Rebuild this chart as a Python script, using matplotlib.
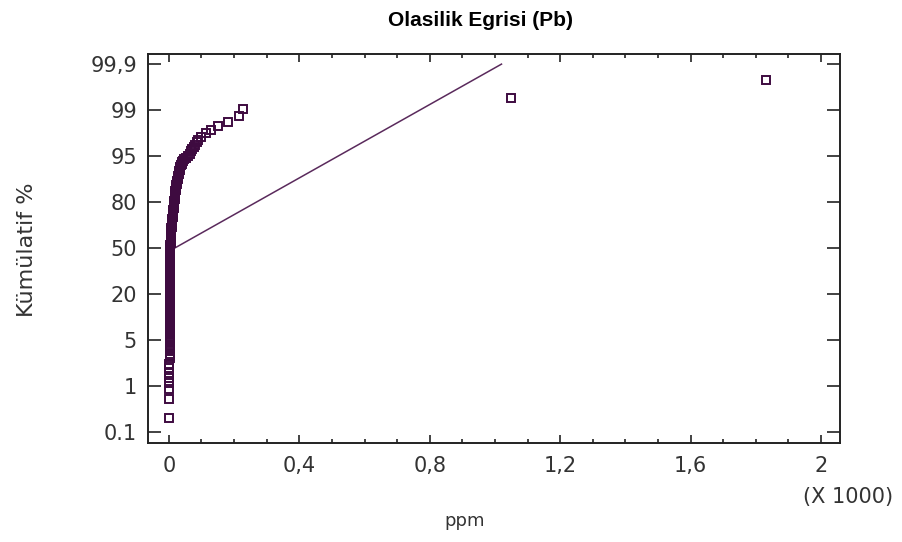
import numpy as np
import matplotlib
matplotlib.use('Agg')
import matplotlib.pyplot as plt
from matplotlib.ticker import MultipleLocator

# probability axis levels (equally spaced on the chart)
prob_ticks = [0.1, 1, 5, 20, 50, 80, 95, 99, 99.9]
prob_labels = ['0.1', '1', '5', '20', '50', '80', '95', '99', '99,9']

x_ticks = [0, 0.4, 0.8, 1.2, 1.6, 2.0]
x_labels = ['0', '0,4', '0,8', '1,2', '1,6', '2']

# sample points: ppm values and cumulative percent
low_ppm = [1, 1, 1, 1, 1, 1, 1, 1]
low_pct = [0.37, 0.75, 0.94, 1.28, 1.70, 2.13, 2.56, 2.91]

col_ppm = [2, 2, 2, 2, 2, 2, 3, 3, 3,
           3, 4, 3, 3, 4, 3, 3, 4, 3, 3, 4, 3, 3, 4, 3,
           3, 4, 3, 3, 4, 3, 3, 4, 3, 3, 4, 3, 3, 4, 3,
           3, 4, 3, 4, 3, 4, 3, 4, 3, 4, 3, 4, 3, 4, 3,
           4, 3, 4, 3, 4, 3, 4, 3, 4, 4, 4, 4, 4, 4, 4,
           4, 4, 5, 5, 5, 6, 6, 6, 7, 7, 8, 8, 8, 9, 9,
           10, 10, 11, 11, 12, 12, 13, 13, 14, 14, 15, 15, 16, 16, 17,
           17, 18, 18, 19, 19, 20, 20, 21, 21, 22, 23, 24, 25, 26, 27,
           28, 29, 30, 31, 32, 33, 34, 35, 37, 39, 41, 43, 46, 52, 58,
           64, 68, 72, 76, 80, 86]
col_pct = [3.4, 3.6, 3.8, 4.0, 4.2, 4.4, 4.6, 4.8, 5.0,
           5.5, 6, 6.5, 7, 7.5, 8, 8.5, 9, 9.5, 10, 10.5, 11, 11.5, 12, 12.5,
           13, 13.5, 14, 14.5, 15, 15.5, 16, 16.5, 17, 17.5, 18, 18.5, 19, 19.5, 20,
           21, 22, 23, 24, 25, 26, 27, 28, 29, 30, 31, 32, 33, 34, 35,
           36, 37, 38, 39, 40, 41, 42, 43, 44, 45, 46, 47, 48, 49, 50,
           51, 52, 53, 54, 55, 56, 57, 58, 59, 60, 61, 62, 63, 64, 65,
           66, 67, 68, 69, 70, 71, 72, 73, 74, 75, 76, 77, 78, 79, 80,
           80.5, 81, 81.5, 82, 82.5, 83, 83.5, 84, 84.5, 85, 85.5, 86, 86.5, 87, 87.5,
           88, 88.5, 89, 89.5, 90, 90.5, 91, 91.5, 92, 92.5, 93, 93.5, 94, 94.5, 95,
           95.2, 95.4, 95.6, 95.8, 96.0, 96.2]

high_ppm = [90, 100, 113, 130, 150, 182, 216, 226, 1049, 1831]
high_pct = [96.4, 96.7, 97.0, 97.3, 97.6, 97.96, 98.48, 99.02, 99.23, 99.59]

# reference line
line_ppm = [18, 1020]
line_pct = [50, 99.9]

def to_y(p):
    return np.interp(p, prob_ticks, np.arange(len(prob_ticks)))

pb_ppm = np.array(low_ppm + col_ppm + high_ppm) / 1000
pb_pct = np.array(low_pct + col_pct + high_pct)

plt.rcParams['font.family'] = 'DejaVu Sans'
fig = plt.figure(figsize=(9.03, 5.42), dpi=100)
ax = fig.add_axes([148 / 903, 99 / 542, 692 / 903, 389 / 542])

ax.plot(np.array(line_ppm) / 1000, to_y(line_pct), color='#5a2a5c', lw=1.1)
ax.plot(pb_ppm, to_y(pb_pct), ls='none', marker='s', ms=5.4,
        mfc='none', mec='#3e0b40', mew=1.4)

ax.set_xlim(-0.064, 2.058)
ax.set_ylim(-0.24, 8.22)
ax.set_xticks(x_ticks)
ax.set_xticklabels(x_labels)
ax.xaxis.set_minor_locator(MultipleLocator(0.1))
ax.set_yticks(np.arange(len(prob_ticks)))
ax.set_yticklabels(prob_labels)

ax.tick_params(axis='both', which='major', direction='in', top=True, right=True,
               labelsize=15, labelcolor='#333333', color='#222222', width=1.2)
ax.tick_params(axis='y', which='major', length=9.5, pad=8)
ax.tick_params(axis='x', which='major', length=6, pad=9)
ax.tick_params(axis='x', which='minor', direction='in', top=True, length=3,
               width=1.2, color='#222222')
for s in ax.spines.values():
    s.set_linewidth(1.4)
    s.set_color('#222222')

fig.text(481 / 903, 1 - 20 / 542, 'Olasilik Egrisi (Pb)', fontsize=15,
         fontweight='bold', family=['Liberation Sans', 'DejaVu Sans'],
         ha='center', va='center')
fig.text(27 / 903, 1 - 250 / 542, 'Kümülatif %', fontsize=16, color='#333333',
         rotation=90, ha='center', va='center')
fig.text(465 / 903, 1 - 521 / 542, 'ppm', fontsize=13, color='#333333',
         ha='center', va='center')
fig.text(893 / 903, 1 - 497 / 542, '(X 1000)', fontsize=15, color='#333333',
         ha='right', va='center')

fig.savefig('out.png', dpi=100)
